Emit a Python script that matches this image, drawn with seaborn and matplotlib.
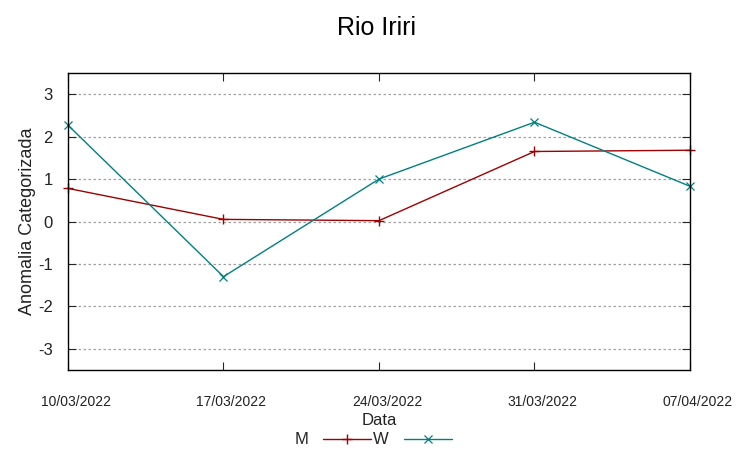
import numpy as np
import pandas as pd
import seaborn as sns
import matplotlib.pyplot as plt
from matplotlib.transforms import ScaledTranslation

datas = ['10/03/2022', '17/03/2022', '24/03/2022', '31/03/2022', '07/04/2022']
m_vals = [0.78, 0.05, 0.02, 1.65, 1.68]
w_vals = [2.27, -1.30, 1.00, 2.34, 0.83]
y_ticks = [-3, -2, -1, 0, 1, 2, 3]

sns.set_style('white')
plt.rcParams['font.family'] = ['Liberation Sans', 'DejaVu Sans']

datas_dt = pd.to_datetime(datas, format='%d/%m/%Y')
df = pd.DataFrame({'Data': datas_dt, 'M': m_vals, 'W': w_vals})

fig = plt.figure(figsize=(7.53, 4.58), dpi=100)
ax = fig.add_axes([68 / 753, 88 / 458, 622 / 753, 297 / 458])

# grade pontilhada horizontal
for y in y_ticks:
    ax.axhline(y, color='#a0a0a0', linestyle=(0, (2, 2)), linewidth=0.9, zorder=0)

sns.lineplot(data=df, x='Data', y='M', ax=ax, color='#a00000', marker='+',
             markersize=7, markeredgewidth=1.0, markeredgecolor='#a00000',
             linewidth=1.0, label='M', clip_on=False)
sns.lineplot(data=df, x='Data', y='W', ax=ax, color='#008080', marker='x',
             markersize=6, markeredgewidth=0.9, markeredgecolor='#008080',
             linewidth=1.0, label='W', clip_on=False)

ax.set_xlim(datas_dt[0], datas_dt[-1])
ax.set_ylim(-3.5, 3.5)
ax.set_xticks(datas_dt)
ax.set_xticklabels(datas, fontsize=10, color='#222222')
ax.set_yticks(y_ticks)
ax.set_yticklabels([str(v) for v in y_ticks], fontsize=12, color='#222222')

ax.tick_params(axis='x', direction='in', length=6, pad=18, top=True, bottom=True)
ax.tick_params(axis='y', direction='in', length=6, pad=11, left=True, right=True)
# rotulos do eixo x levemente deslocados para a direita (como no gnuplot)
desloc = ScaledTranslation(8 / 100, 0, fig.dpi_scale_trans)
for lbl in ax.get_xticklabels():
    lbl.set_transform(lbl.get_transform() + desloc)

for s in ax.spines.values():
    s.set_color('black')
    s.set_linewidth(1.0)

ax.set_xlabel('Data', fontsize=12, labelpad=3, color='#222222')
ax.set_ylabel('Anomalia Categorizada', fontsize=13, labelpad=1, color='#222222')
fig.suptitle('Rio Iriri', fontsize=18, y=0.965, color='black')

ax.legend(loc='center', bbox_to_anchor=(373 / 753, 1 - 440 / 458),
          bbox_transform=fig.transFigure, ncol=2, frameon=False,
          markerfirst=False, handlelength=2.85, columnspacing=0.15,
          handletextpad=0.9, fontsize=12, borderaxespad=0)

plt.savefig('out.png', dpi=100)
